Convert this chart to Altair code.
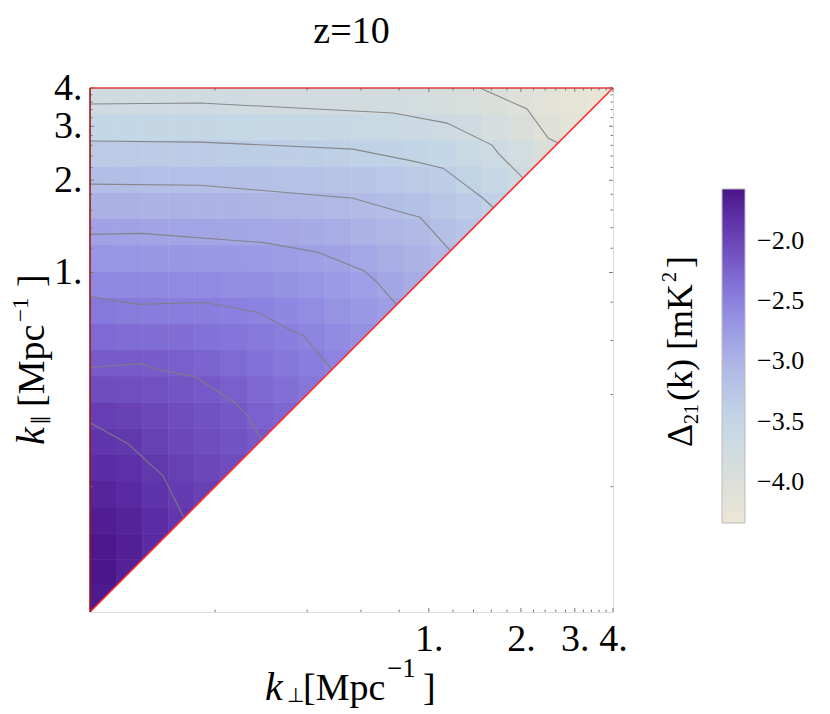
import altair as alt
import pandas as pd
import numpy as np

# ---------------- data ----------------
K_MIN, K_MAX = 0.078, 4.0
N_CELLS = 20

# Delta_21 values on a log grid, rows from top (largest k_par) to bottom;
# row j holds the cells k_perp <= k_par (columns 0 .. 19-j)
row00 = [-3.75, -3.75, -3.75, -3.75, -3.76, -3.76, -3.77, -3.77, -3.78, -3.79, -3.80, -3.80, -3.82, -3.86, -3.92, -3.98, -4.05, -4.14, -4.22, -4.30]
row01 = [-3.52, -3.52, -3.53, -3.53, -3.53, -3.54, -3.55, -3.56, -3.57, -3.58, -3.60, -3.62, -3.65, -3.69, -3.76, -3.85, -3.94, -4.07, -4.17]
row02 = [-3.32, -3.32, -3.33, -3.33, -3.33, -3.34, -3.35, -3.36, -3.37, -3.38, -3.40, -3.43, -3.47, -3.51, -3.61, -3.69, -3.82, -3.93]
row03 = [-3.13, -3.13, -3.14, -3.14, -3.14, -3.15, -3.16, -3.18, -3.19, -3.21, -3.23, -3.27, -3.31, -3.36, -3.46, -3.56, -3.70]
row04 = [-2.97, -2.97, -2.98, -2.98, -2.99, -3.00, -3.01, -3.03, -3.05, -3.06, -3.09, -3.13, -3.17, -3.25, -3.33, -3.41]
row05 = [-2.81, -2.81, -2.82, -2.83, -2.84, -2.85, -2.86, -2.88, -2.91, -2.93, -2.98, -3.03, -3.08, -3.15, -3.23]
row06 = [-2.68, -2.69, -2.70, -2.70, -2.71, -2.72, -2.73, -2.76, -2.78, -2.81, -2.86, -2.93, -2.99, -3.06]
row07 = [-2.56, -2.57, -2.57, -2.58, -2.58, -2.60, -2.61, -2.65, -2.69, -2.73, -2.77, -2.85, -2.92]
row08 = [-2.43, -2.44, -2.45, -2.46, -2.46, -2.48, -2.50, -2.55, -2.60, -2.66, -2.71, -2.77]
row09 = [-2.31, -2.32, -2.33, -2.34, -2.36, -2.39, -2.43, -2.47, -2.52, -2.59, -2.65]
row10 = [-2.19, -2.19, -2.20, -2.22, -2.26, -2.31, -2.36, -2.41, -2.46, -2.51]
row11 = [-2.07, -2.08, -2.10, -2.13, -2.17, -2.22, -2.30, -2.35, -2.40]
row12 = [-1.93, -1.97, -2.02, -2.07, -2.11, -2.16, -2.23, -2.28]
row13 = [-1.85, -1.88, -1.95, -2.02, -2.07, -2.12, -2.17]
row14 = [-1.77, -1.81, -1.88, -1.96, -2.02, -2.07]
row15 = [-1.70, -1.75, -1.83, -1.91, -1.97]
row16 = [-1.64, -1.69, -1.77, -1.87]
row17 = [-1.60, -1.66, -1.76]
row18 = [-1.59, -1.68]
row19 = [-1.62]
grid_rows = [row00, row01, row02, row03, row04, row05, row06, row07, row08, row09,
             row10, row11, row12, row13, row14, row15, row16, row17, row18, row19]

# contour lines (k_perp, k_par) in Mpc^-1
c0_kperp = [1.47, 2.095, 2.454, 2.646]
c0_kpar = [4.0, 3.415, 2.746, 2.644]
c1_kperp = [0.078, 0.1786, 0.7637, 1.147, 1.609, 1.684, 2.032]
c1_kpar = [3.546, 3.573, 3.314, 3.073, 2.604, 2.452, 2.031]
c2_kperp = [0.078, 0.1786, 0.5651, 0.8878, 1.113, 1.504, 1.621]
c2_kpar = [2.685, 2.664, 2.527, 2.309, 2.190, 1.747, 1.633]
c3_kperp = [0.078, 0.1786, 0.5651, 0.836, 0.936, 1.173]
c3_kpar = [1.942, 1.927, 1.747, 1.561, 1.514, 1.181]
c4_kperp = [0.078, 0.1154, 0.1854, 0.2848, 0.4342, 0.6186, 0.6822, 0.787]
c4_kpar = [1.332, 1.342, 1.293, 1.254, 1.164, 1.009, 0.921, 0.781]
c5_kperp = [0.078, 0.1111, 0.1854, 0.2764, 0.3439, 0.3879, 0.4826]
c5_kpar = [0.835, 0.787, 0.798, 0.741, 0.657, 0.623, 0.4822]
c6_kperp = [0.078, 0.1154, 0.1292, 0.1719, 0.2325, 0.2564, 0.2848]
c6_kpar = [0.4896, 0.5045, 0.4822, 0.4573, 0.3760, 0.3384, 0.2826]
c7_kperp = [0.078, 0.1039, 0.1351, 0.1583]
c7_kpar = [0.3235, 0.2762, 0.2171, 0.1582]
contours = [(c0_kperp, c0_kpar), (c1_kperp, c1_kpar), (c2_kperp, c2_kpar), (c3_kperp, c3_kpar),
            (c4_kperp, c4_kpar), (c5_kperp, c5_kpar), (c6_kperp, c6_kpar), (c7_kperp, c7_kpar)]

tick_major = [1, 2, 3, 4]
tick_minor = [0.2, 0.4, 0.6, 0.8, 1.2, 1.4, 1.6, 1.8, 2.2, 2.4, 2.6, 2.8, 3.2, 3.4, 3.6, 3.8]
legend_values = [-2.0, -2.5, -3.0, -3.5, -4.0]

# colour map (value -> colour)
cmap_values = [-4.34, -4.0, -3.75, -3.5, -3.25, -3.0, -2.75, -2.5, -2.25, -2.0, -1.75, -1.57]
cmap_colors = ["#ece6d6", "#dcdfd9", "#d0dbe1", "#c3d7e6", "#b8c7e6", "#adb4e5",
               "#9c9ce5", "#8c82e0", "#7b63cf", "#6a45b8", "#5a2aa2", "#4a1488"]

# text pieces of the titles: (text, x, y, size, italic) in plot pixels
x_title_parts = [("k", 175, 612, 40, True), ("⊥", 197, 614, 20, False), ("[Mpc", 213, 612, 38, False),
                 ("−1", 297, 589, 27, False), ("]", 333, 612, 38, False)]
y_title_parts = [("k", -46, 357, 40, True), ("∥", -44, 337, 20, False), ("[Mpc", -46, 319, 38, False),
                 ("−1", -62, 234, 23, False), ("]", -46, 199, 38, False)]
legend_title_parts = [("Δ", 602, 359, 36, False), ("21", 608, 336, 20, False), ("(k)", 602, 313, 36, False),
                      ("[mK", 602, 262, 36, False), ("2", 586, 194, 20, False), ("]", 602, 180, 36, False)]

# ---------------- tables ----------------
edges = np.logspace(np.log10(K_MIN), np.log10(K_MAX), N_CELLS + 1)
cells = []
for j, row in enumerate(grid_rows):
    r = N_CELLS - 1 - j
    for i, val in enumerate(row):
        cells.append(dict(x1=edges[i], x2=edges[i + 1], y1=edges[r], y2=edges[r + 1], v=val))
cells_df = pd.DataFrame(cells)

cont_rows = []
for lev, (xs_, ys_) in enumerate(contours):
    for o, (a, b) in enumerate(zip(xs_, ys_)):
        cont_rows.append(dict(level=lev, o=o, kperp=a, kpar=b))
cont_df = pd.DataFrame(cont_rows)

FONT = "Liberation Serif"
W, H = 523, 524

xs = alt.Scale(type="log", domain=[K_MIN, K_MAX], nice=False, zero=False)
ys = alt.Scale(type="log", domain=[K_MIN, K_MAX], nice=False, zero=False)
cscale = alt.Scale(domain=cmap_values, range=cmap_colors, interpolate="rgb")

xaxis = alt.Axis(values=tick_major, labelExpr="datum.value + '.'", ticks=False, domain=False, grid=False,
                 labelFont=FONT, labelFontSize=38, labelPadding=8, labelFlush=False, labelOverlap=False,
                 labelColor="black", title=None)
yaxis = alt.Axis(values=tick_major, labelExpr="datum.value + '.'", ticks=False, domain=False, grid=False,
                 labelFont=FONT, labelFontSize=38, labelPadding=8, labelFlush=False, labelOverlap=False,
                 labelColor="black", title=None)

legend = alt.Legend(type="gradient", orient="none", legendX=632, legendY=101, direction="vertical",
                    gradientLength=334, gradientThickness=23, values=legend_values, format=".1f",
                    labelFont=FONT, labelFontSize=26, labelOffset=12, labelColor="black",
                    labelOverlap=False, title=None, gradientStrokeColor="#bbbbbb", gradientStrokeWidth=1)

heat = alt.Chart(cells_df).mark_rect(strokeWidth=0).encode(
    x=alt.X("x1:Q", scale=xs, axis=xaxis),
    x2="x2:Q",
    y=alt.Y("y1:Q", scale=ys, axis=yaxis),
    y2="y2:Q",
    color=alt.Color("v:Q", scale=cscale, legend=legend),
)
# second pass of the same cells hides anti-aliasing seams between neighbours
heat2 = alt.Chart(cells_df).mark_rect(strokeWidth=0).encode(
    x=alt.X("x1:Q", scale=xs), x2="x2:Q",
    y=alt.Y("y1:Q", scale=ys), y2="y2:Q",
    color=alt.Color("v:Q", scale=cscale),
)

tri_df = pd.DataFrame({"k": [K_MIN, K_MAX], "kb": [K_MIN, K_MIN]})
white = alt.Chart(tri_df).mark_area(color="white", opacity=1).encode(
    x=alt.X("k:Q", scale=xs), y=alt.Y("k:Q", scale=ys), y2="kb:Q")

cont = alt.Chart(cont_df).mark_line(color="#808080", strokeWidth=1.1, opacity=0.9).encode(
    x=alt.X("kperp:Q", scale=xs), y=alt.Y("kpar:Q", scale=ys), detail="level:N", order="o:Q")

def seg(xa, ya, xb, yb, color, width):
    d = pd.DataFrame({"xa": [xa], "ya": [ya], "xb": [xb], "yb": [yb]})
    return alt.Chart(d).mark_rule(color=color, strokeWidth=width).encode(
        x=alt.X("xa:Q", scale=xs), y=alt.Y("ya:Q", scale=ys), x2="xb:Q", y2="yb:Q")

diag = seg(K_MIN, K_MIN, K_MAX, K_MAX, "#ff2b2b", 1.6)
top_b = seg(K_MIN, K_MAX, K_MAX, K_MAX, "#d83a3a", 1.6)
left_b = seg(K_MIN, K_MIN, K_MIN, K_MAX, "#9e1616", 1.6)

tmaj = pd.DataFrame({"t": tick_major})
tmin = pd.DataFrame({"t": tick_minor})
TC = "#7a7a7a"
def ticks(df, length):
    b = alt.Chart(df).mark_rule(color=TC, strokeWidth=1).encode(
        x=alt.X("t:Q", scale=xs), y=alt.value(H), y2=alt.value(H - length))
    t = alt.Chart(df).mark_rule(color=TC, strokeWidth=1).encode(
        x=alt.X("t:Q", scale=xs), y=alt.value(0), y2=alt.value(length))
    l = alt.Chart(df).mark_rule(color=TC, strokeWidth=1).encode(
        y=alt.Y("t:Q", scale=ys), x=alt.value(0), x2=alt.value(length))
    r = alt.Chart(df).mark_rule(color=TC, strokeWidth=1).encode(
        y=alt.Y("t:Q", scale=ys), x=alt.value(W), x2=alt.value(W - length))
    return [b, t, l, r]

one = pd.DataFrame({"a": [0]})
def text_parts(parts, angle):
    out = []
    for (s, px, py, size, italic) in parts:
        kw = dict(font=FONT, fontSize=size, align="left", baseline="alphabetic", color="black")
        if italic:
            kw["fontStyle"] = "italic"
        if angle:
            kw["angle"] = angle
        out.append(alt.Chart(one).mark_text(**kw).encode(
            x=alt.value(px), y=alt.value(py), text=alt.value(s)))
    return out

layers = ([heat, heat2, white, cont] + ticks(tmaj, 4) + ticks(tmin, 2.5) + [diag, top_b, left_b]
          + text_parts(x_title_parts, 0) + text_parts(y_title_parts, 270)
          + text_parts(legend_title_parts, 270))

chart = alt.layer(*layers).properties(
    width=W, height=H,
    title=alt.TitleParams("z=10", font=FONT, fontSize=38, fontWeight="normal", color="black",
                          anchor="middle", offset=18),
    autosize=alt.AutoSizeParams(type="none"),
    padding={"left": 82, "top": 80, "right": 200, "bottom": 100},
).configure_view(stroke="#8a8a8a", strokeWidth=1).configure(background="white")

chart.save("out.html", embed_options={"renderer": "svg", "actions": False})
